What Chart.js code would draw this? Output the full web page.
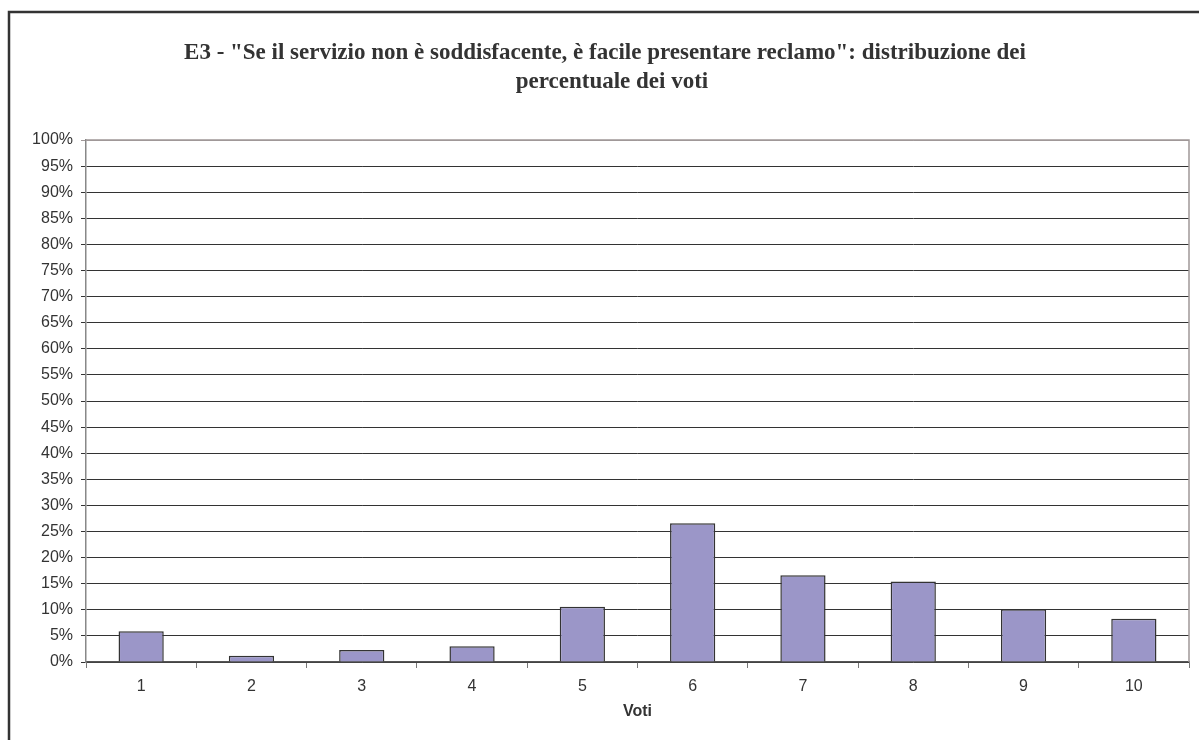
<!DOCTYPE html>
<html>
<head>
<meta charset="utf-8">
<title>E3 - distribuzione percentuale dei voti</title>
<script src="https://cdn.jsdelivr.net/npm/chart.js@4.4.1/dist/chart.umd.min.js"></script>
<style>
  html, body { margin: 0; padding: 0; background: #fff; }
  #wrap { width: 1199px; height: 740px; position: relative; }
</style>
</head>
<body>
<div id="wrap"><canvas id="votiChart"></canvas></div>
<script>
// voti 1..10 e percentuale delle risposte
const categories = ['1', '2', '3', '4', '5', '6', '7', '8', '9', '10'];
const percentVoti = [5.9, 1.2, 2.3, 3.0, 10.6, 26.6, 16.6, 15.4, 10.1, 8.3];
const yMin = 0;
const yMax = 100;
const yStep = 5;

const titleLines = [
    'E3 - "Se il servizio non è soddisfacente, è facile presentare reclamo": distribuzione dei',
    'percentuale dei voti'
];

// cornice esterna e titolo su due righe
const frameAndTitle = {
    id: 'frameAndTitle',
    beforeDraw(chart) {
        const c = chart.ctx;
        c.save();
        c.fillStyle = '#fff';
        c.fillRect(0, 0, chart.width, chart.height);
        c.strokeStyle = '#333';
        c.lineWidth = 2.5;
        c.strokeRect(9, 12, chart.width + 20, chart.height + 20);
        c.restore();
    },
    afterDraw(chart) {
        const c = chart.ctx;
        c.save();
        c.fillStyle = '#333';
        c.font = 'bold 23px "Liberation Serif", "Times New Roman", serif';
        c.textAlign = 'center';
        c.textBaseline = 'alphabetic';
        c.fillText(titleLines[0], 605, 59);
        c.fillText(titleLines[1], 612, 88);
        c.restore();
    },
    afterDatasetsDraw(chart) {
        // bordo destro e superiore dell'area del grafico
        const a = chart.chartArea;
        const c = chart.ctx;
        c.save();
        c.strokeStyle = '#a09898';
        c.lineWidth = 1.5;
        c.beginPath();
        c.moveTo(a.left, a.top);
        c.lineTo(a.right, a.top);
        c.lineTo(a.right, a.bottom);
        c.stroke();
        c.restore();
    }
};

const ctx = document.getElementById('votiChart').getContext('2d');
const votiChart = new Chart(ctx, {
    type: 'bar',
    data: {
        labels: categories,
        datasets: [{
            label: 'Voti',
            data: percentVoti,
            backgroundColor: '#9b96c8',
            borderColor: '#333',
            borderWidth: 1.5,
            barPercentage: 0.41,
            categoryPercentage: 1
        }]
    },
    options: {
        responsive: true,
        maintainAspectRatio: false,
        animation: false,
        layout: {
            padding: { left: 0, top: 140, right: 10, bottom: 0 }
        },
        plugins: {
            legend: { display: false },
            tooltip: { enabled: false }
        },
        scales: {
            x: {
                offset: true,
                grid: {
                    display: true,
                    drawOnChartArea: false,
                    offset: true,
                    color: '#777',
                    tickLength: 6
                },
                border: { color: '#555', width: 1.5 },
                ticks: {
                    color: '#333',
                    padding: 9,
                    font: { family: '"Liberation Sans", Arial, sans-serif', size: 16 }
                },
                title: {
                    display: true,
                    text: 'Voti',
                    color: '#333',
                    font: { family: '"Liberation Sans", Arial, sans-serif', size: 16, weight: 'bold' },
                    padding: { top: 4, bottom: 19 }
                },
                afterFit: function (scale) {
                    scale.height = 78;
                }
            },
            y: {
                min: yMin,
                max: yMax,
                grid: {
                    color: function (c) {
                        return c.tick && c.tick.value === yMax ? '#a09898' : '#333';
                    },
                    lineWidth: 1,
                    tickLength: 5
                },
                border: { color: '#888', width: 1.5 },
                ticks: {
                    stepSize: yStep,
                    color: '#333',
                    padding: 8,
                    font: { family: '"Liberation Sans", Arial, sans-serif', size: 16 },
                    callback: function (value) {
                        return value + '%';
                    }
                },
                afterFit: function (scale) {
                    scale.width = 86;
                }
            }
        }
    },
    plugins: [frameAndTitle]
});
</script>
</body>
</html>
